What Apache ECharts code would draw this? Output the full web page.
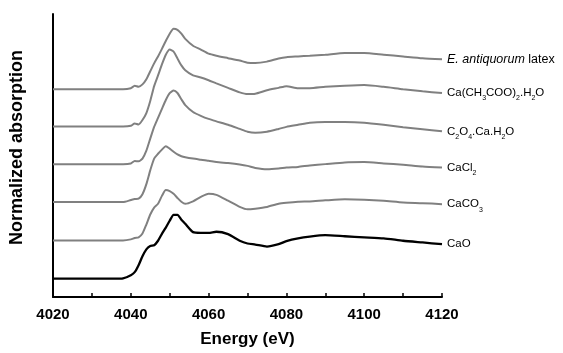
<!DOCTYPE html>
<html>
<head>
<meta charset="utf-8">
<script src="https://cdn.jsdelivr.net/npm/echarts@6/dist/echarts.min.js"></script>
<style>
html,body{margin:0;padding:0;background:#fff;}
#chart{width:563px;height:353px;}
</style>
</head>
<body>
<div id="chart"></div>
<script>
// Energy grid (eV)
var energy = [4020, 4030, 4036, 4038, 4040, 4041, 4042, 4043, 4044, 4045, 4046, 4047, 4048, 4049, 4050, 4051, 4052, 4053, 4054, 4056, 4058, 4060, 4062, 4065, 4068, 4070, 4072, 4075, 4078, 4080, 4083, 4086, 4090, 4095, 4100, 4105, 4110, 4115, 4120];

// Normalized absorption values
var latex   = [0,0,0,0, 0.03,0.10,0.07,0.14,0.29,0.52,0.75,0.95,1.17,1.40,1.61,1.75,1.72,1.61,1.46,1.26,1.15,1.03,0.97,0.90,0.83,0.77,0.76,0.80,0.89,0.93,0.95,0.97,1.00,1.05,1.05,1.00,0.95,0.90,0.87];
var acetate = [0,0,0,0, 0.02,0.09,0.06,0.19,0.39,0.74,1.17,1.48,1.80,2.08,2.23,2.17,1.97,1.77,1.63,1.48,1.42,1.34,1.25,1.12,0.99,0.94,0.95,1.05,1.12,1.17,1.11,1.11,1.15,1.18,1.20,1.15,1.08,1.02,0.97];
var oxalate = [0,0,0,0, 0.02,0.09,0.08,0.16,0.39,0.74,1.08,1.34,1.60,1.86,2.06,2.13,2.06,1.88,1.71,1.51,1.40,1.31,1.24,1.14,1.02,0.94,0.91,0.94,1.02,1.08,1.14,1.20,1.22,1.22,1.20,1.14,1.07,1.01,0.95];
var cacl2   = [0,0,0,0, 0.06,0.09,0.10,0.23,0.52,0.92,1.26,1.40,1.52,1.62,1.55,1.46,1.38,1.33,1.30,1.26,1.23,1.20,1.16,1.13,1.09,1.05,0.99,0.95,0.97,1.00,1.02,1.06,1.10,1.15,1.16,1.12,1.08,1.03,1.00];
var caco3   = [0,0,0,0, 0.03,0.07,0.09,0.20,0.46,0.75,0.95,1.06,1.29,1.46,1.43,1.35,1.23,1.12,1.06,1.13,1.26,1.35,1.32,1.15,0.97,0.90,0.92,0.97,1.06,1.09,1.12,1.13,1.16,1.19,1.18,1.15,1.10,1.08,1.05];
var cao     = [0,0,0,0.01, 0.10,0.19,0.39,0.65,0.85,0.95,0.97,1.10,1.30,1.48,1.68,1.85,1.85,1.71,1.59,1.35,1.33,1.33,1.36,1.29,1.10,1.02,0.99,0.93,1.00,1.09,1.17,1.22,1.26,1.23,1.20,1.17,1.10,1.05,1.00];

// Vertical stacking offsets
var offsets = [6.02, 4.94, 3.85, 2.75, 1.64, 0.53];

// Labels (rich text)
var labels = [
  '{i|E. antiquorum}{l| latex}',
  '{n|Ca(CH}{s|3}{n|COO)}{s|2}{n|.H}{s|2}{n|O}',
  '{n|C}{s|2}{n|O}{s|4}{n|.Ca.H}{s|2}{n|O}',
  '{n|CaCl}{s|2}',
  '{n|CaCO}{s|3}',
  '{n|CaO}'
];

var xTicks = [4020, 4040, 4060, 4080, 4100, 4120];

var allVals = [latex, acetate, oxalate, cacl2, caco3, cao];
var colors = ['#808080','#808080','#808080','#808080','#808080','#000000'];
var widths = [2,2,2,2,2,2.3];

var font = '"Liberation Sans", Arial, sans-serif';

var series = allVals.map(function(vals, k){
  return {
    type: 'line',
    data: energy.map(function(e, i){ return [e, vals[i] + offsets[k]]; }),
    showSymbol: false,
    smooth: 0.2,
    lineStyle: { color: colors[k], width: widths[k] },
    z: k === 5 ? 3 : 2,
    endLabel: {
      show: true,
      distance: 5,
      formatter: function(){ return labels[k]; },
      rich: {
        n: { fontSize: 11.5, lineHeight: 18, fontFamily: font, color: '#000' },
        i: { fontSize: 12.5, lineHeight: 18, fontFamily: font, color: '#000', fontStyle: 'italic' },
        l: { fontSize: 12.5, lineHeight: 18, fontFamily: font, color: '#000' },
        s: { fontSize: 7, lineHeight: 8, fontFamily: font, color: '#000', verticalAlign: 'bottom' }
      }
    }
  };
});

var chart = echarts.init(document.getElementById('chart'), null, {renderer: 'canvas'});
chart.setOption({
  animation: false,
  backgroundColor: '#fff',
  grid: { left: 53, right: 121, top: 14, bottom: 53 },
  xAxis: {
    type: 'value',
    min: 4020, max: 4120, interval: 10,
    name: 'Energy (eV)',
    nameLocation: 'middle',
    nameGap: 34,
    nameTextStyle: { fontSize: 17, fontWeight: 'bold', fontFamily: font, color: '#000' },
    axisLine: { lineStyle: { color: '#000', width: 2 } },
    axisTick: { inside: true, length: 4, lineStyle: { color: '#000', width: 1.5 } },
    axisLabel: {
      margin: 10, fontSize: 15, fontWeight: 'bold', fontFamily: font, color: '#000',
      formatter: function(v){ return xTicks.indexOf(v) >= 0 ? String(v) : ''; }
    },
    splitLine: { show: false }
  },
  yAxis: {
    type: 'value',
    min: 0, max: 8.2,
    name: 'Normalized absorption',
    nameLocation: 'middle',
    nameGap: 27,
    nameTextStyle: { fontSize: 18, fontWeight: 'bold', fontFamily: font, color: '#000', padding: [0, 0, 0, 16] },
    axisLine: { show: true, lineStyle: { color: '#000', width: 2 } },
    axisTick: { show: false },
    axisLabel: { show: false },
    splitLine: { show: false }
  },
  series: series
});
</script>
</body>
</html>
